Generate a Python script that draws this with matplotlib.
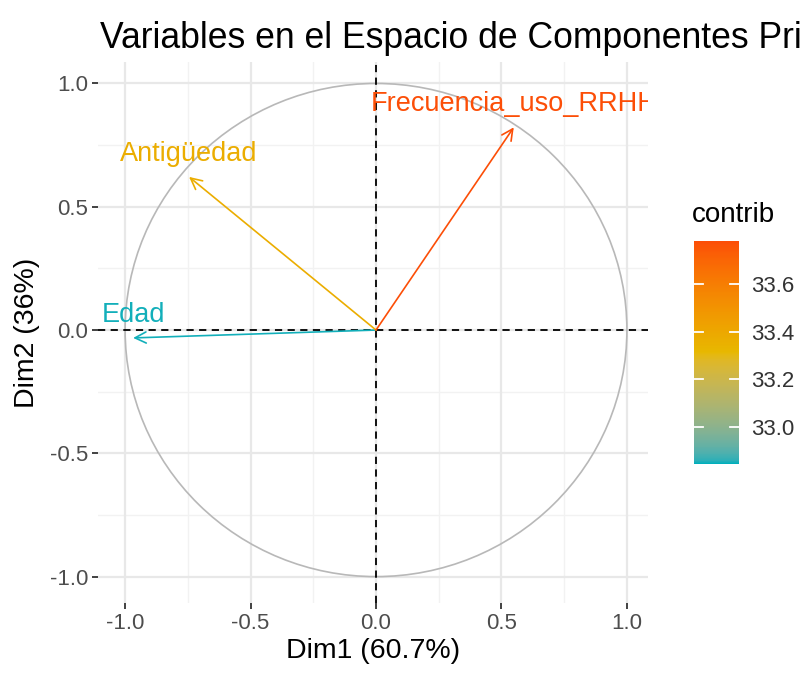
import numpy as np
import matplotlib
matplotlib.use("Agg")
import matplotlib.pyplot as plt
from matplotlib.colors import ListedColormap, Normalize, to_rgb
from matplotlib.patches import Circle

plt.rcParams['font.family'] = ['Liberation Sans', 'DejaVu Sans']

# PCA variable coordinates
variables = ["Edad", "Antigüedad", "Frecuencia_uso_RRHH"]
dim1 = [-0.968, -0.745, 0.549]
dim2 = [-0.032, 0.621, 0.822]
contrib = [32.85, 33.37, 33.78]

x_ticks = [-1.0, -0.5, 0.0, 0.5, 1.0]
y_ticks = [-1.0, -0.5, 0.0, 0.5, 1.0]
cbar_ticks = [33.0, 33.2, 33.4, 33.6]
gradient_cols = ["#00AFBB", "#E7B800", "#FC4E07"]


# ggplot blends gradient colours in Lab space, do the same here
def srgb_to_lab(rgb):
    rgb = np.asarray(rgb, dtype=float)
    lin = np.where(rgb <= 0.04045, rgb / 12.92, ((rgb + 0.055) / 1.055) ** 2.4)
    m = np.array([[0.4124, 0.3576, 0.1805],
                  [0.2126, 0.7152, 0.0722],
                  [0.0193, 0.1192, 0.9505]])
    xyz = m @ lin / np.array([0.95047, 1.0, 1.08883])
    f = np.where(xyz > 0.008856, np.cbrt(xyz), 7.787 * xyz + 16 / 116)
    return np.array([116 * f[1] - 16, 500 * (f[0] - f[1]), 200 * (f[1] - f[2])])


def lab_to_srgb(lab):
    L, a, b = lab
    fy = (L + 16) / 116
    f = np.array([fy + a / 500, fy, fy - b / 200])
    xyz = np.where(f ** 3 > 0.008856, f ** 3, (f - 16 / 116) / 7.787)
    xyz = xyz * np.array([0.95047, 1.0, 1.08883])
    minv = np.array([[3.2406, -1.5372, -0.4986],
                     [-0.9689, 1.8758, 0.0415],
                     [0.0557, -0.2040, 1.0570]])
    lin = minv @ xyz
    rgb = np.where(lin <= 0.0031308, 12.92 * lin, 1.055 * np.clip(lin, 0, None) ** (1 / 2.4) - 0.055)
    return np.clip(rgb, 0, 1)


labs = [srgb_to_lab(to_rgb(c)) for c in gradient_cols]
steps = np.linspace(0, 1, 256)
lut = []
for s in steps:
    seg = min(int(s * 2), 1)
    t = s * 2 - seg
    lut.append(lab_to_srgb(labs[seg] * (1 - t) + labs[seg + 1] * t))
cmap = ListedColormap(lut)
norm = Normalize(vmin=min(contrib) - 0.005, vmax=max(contrib))

fig = plt.figure(figsize=(8.01, 6.78), dpi=100)
ax = fig.add_axes([98/801, 75/678, 550/801, 541/678])

ax.set_xlim(-1.108, 1.084)
ax.set_ylim(-1.107, 1.087)

# grid like theme_minimal
for v in [-0.75, -0.25, 0.25, 0.75]:
    ax.axvline(v, color="#F2F2F2", lw=1.0, zorder=0)
    ax.axhline(v, color="#F2F2F2", lw=1.0, zorder=0)
for v in x_ticks:
    ax.axvline(v, color="#E8E8E8", lw=1.6, zorder=0)
for v in y_ticks:
    ax.axhline(v, color="#E8E8E8", lw=1.6, zorder=0)

for s in ax.spines.values():
    s.set_visible(False)

ax.add_patch(Circle((0, 0), 1.0, fill=False, ec="#B8B8B8", lw=1.2, zorder=1))
ax.axhline(0, color="black", ls=(0, (4, 3)), lw=1.3, zorder=2)
ax.axvline(0, color="black", ls=(0, (4, 3)), lw=1.3, zorder=2)

for name, x, y, c in zip(variables, dim1, dim2, contrib):
    col = cmap(norm(c))
    ax.annotate("", xy=(x, y), xytext=(0, 0),
                arrowprops=dict(arrowstyle="->", color=col, lw=1.2,
                                shrinkA=0, shrinkB=0, mutation_scale=20),
                zorder=3)
    ax.annotate(name, xy=(x, y), xytext=(0, 11.5), textcoords="offset points",
                ha="center", va="baseline", color=col, fontsize=19.5,
                annotation_clip=False, clip_on=True, zorder=4)

ax.set_xticks(x_ticks)
ax.set_yticks(y_ticks)
ax.set_xticklabels(["%.1f" % t for t in x_ticks])
ax.set_yticklabels(["%.1f" % t for t in y_ticks])
ax.tick_params(length=4, width=1.3, color="#333333", labelcolor="#4D4D4D",
               labelsize=16, pad=3)

ax.set_xlabel("Dim1 (60.7%)", fontsize=20.5, labelpad=3)
ax.set_ylabel("Dim2 (36%)", fontsize=20.5, labelpad=7)

fig.text(100/801, 1 - 38/678, "Variables en el Espacio de Componentes Principales",
         ha="left", va="center", fontsize=25.6)

# colour bar
cax = fig.add_axes([694/801, (678-464)/678, 45/801, 223/678])
sm = plt.cm.ScalarMappable(cmap=cmap, norm=norm)
cb = fig.colorbar(sm, cax=cax, ticks=cbar_ticks)
cb.outline.set_visible(False)
cb.ax.set_yticklabels(["%.1f" % t for t in cbar_ticks])
cb.ax.tick_params(length=0, labelsize=16, labelcolor="#333333", pad=9)
for t in cbar_ticks:
    cax.plot([0, 0.2], [t, t], color="white", lw=1.3, transform=cax.get_yaxis_transform())
    cax.plot([0.8, 1.0], [t, t], color="white", lw=1.3, transform=cax.get_yaxis_transform())
fig.text(692/801, 1 - 215/678, "contrib", ha="left", va="center", fontsize=20)

fig.savefig("out.png", dpi=100)
